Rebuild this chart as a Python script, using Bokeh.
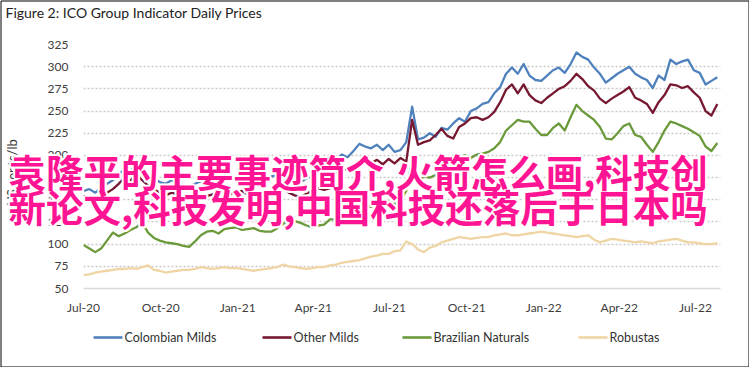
import pandas as pd
from math import pi
from bokeh.plotting import figure
from bokeh.models import Range1d, FixedTicker, ColumnDataSource
from bokeh.embed import file_html
from bokeh.resources import INLINE
from bokeh.core.properties import value

# ---------------- data (weekly readings, starting 1 Jul 2020) ----------------
start_date = "2020-07-01"
colombian_milds = [
    160, 162, 158, 163, 168, 172, 178, 185, 183, 188,
    182, 178, 174, 170, 168, 172, 170, 166, 165, 168,
    171, 170, 173, 176, 174, 172, 175, 178, 174, 172,
    170, 173, 176, 178, 180, 176, 172, 170, 174, 176,
    180, 178, 180, 195, 201, 198, 205, 213, 210, 208,
    212, 206, 212, 204, 206, 215, 255, 218, 220, 225,
    221, 231, 229, 236, 242, 238, 250, 253, 258, 260,
    270, 277, 292, 299, 292, 303, 290, 285, 284, 290,
    296, 299, 293, 303, 316, 311, 308, 299, 292, 282,
    287, 292, 296, 300, 292, 288, 285, 276, 290, 285,
    308, 303, 306, 308, 296, 293, 280, 284, 288,
]
other_milds = [
    154, 152, 150, 155, 158, 162, 168, 175, 172, 178,
    172, 166, 162, 158, 155, 158, 156, 152, 150, 153,
    156, 154, 156, 160, 158, 156, 158, 160, 156, 154,
    152, 155, 158, 160, 162, 158, 155, 153, 157, 160,
    163, 161, 163, 178, 186, 183, 188, 194, 192, 191,
    195, 190, 196, 191, 197, 193, 240, 212, 215, 217,
    223, 230, 222, 219, 232, 236, 242, 243, 240, 243,
    249, 260, 274, 280, 270, 280, 268, 262, 259, 265,
    270, 275, 278, 284, 292, 286, 278, 273, 264, 259,
    264, 268, 272, 277, 265, 262, 258, 248, 260, 268,
    280, 279, 276, 278, 271, 265, 250, 245, 258,
]
brazilian_naturals = [
    99, 95, 91, 95, 104, 113, 109, 112, 116, 119,
    124, 113, 107, 104, 102, 101, 100, 98, 97, 103,
    110, 114, 115, 112, 117, 118, 119, 116, 117, 118,
    115, 114, 114, 118, 123, 126, 126, 124, 121, 119,
    121, 122, 128, 128, 127, 131, 137, 142, 145, 142,
    146, 143, 148, 145, 150, 160, 195, 172, 176, 175,
    178, 180, 186, 192, 198, 200, 197, 201, 202, 204,
    208, 215, 228, 234, 240, 238, 238, 230, 223, 223,
    231, 236, 228, 243, 257, 250, 245, 240, 232, 219,
    218, 225, 233, 236, 223, 221, 212, 204, 215, 228,
    238, 236, 233, 230, 226, 222, 210, 205, 214,
]
robustas = [
    65, 66, 68, 69, 70, 71, 72, 72, 73, 72,
    74, 76, 71, 70, 68, 69, 70, 71, 71, 72,
    74, 73, 72, 73, 74, 73, 73, 72, 71, 70,
    71, 72, 73, 74, 77, 75, 74, 73, 72, 73,
    74, 74, 76, 77, 79, 80, 81, 82, 84, 86,
    87, 89, 89, 92, 93, 103, 100, 94, 91, 96,
    98, 102, 104, 106, 108, 107, 106, 107, 108, 108,
    110, 111, 112, 110, 110, 111, 112, 113, 114, 113,
    112, 111, 110, 109, 108, 109, 110, 105, 102, 104,
    106, 105, 104, 103, 102, 103, 102, 101, 103, 104,
    105, 106, 104, 102, 102, 101, 100, 100, 101,
]
series_names = ["Colombian Milds", "Other Milds", "Brazilian Naturals", "Robustas"]
tick_dates = ["2020-07-01", "2020-10-01", "2021-01-01", "2021-04-01", "2021-07-01",
              "2021-10-01", "2022-01-01", "2022-04-01", "2022-07-01"]
tick_labels = ["Jul-20", "Oct-20", "Jan-21", "Apr-21", "Jul-21",
               "Oct-21", "Jan-22", "Apr-22", "Jul-22"]
y_ticks = [50, 75, 100, 125, 150, 175, 200, 225, 250, 275, 300, 325]
title_text = "Figure 2: ICO Group Indicator Daily Prices"
y_label = "US cents/lb"
overlay_lines = ["袁隆平的主要事迹简介,火箭怎么画,科技创",
                 "新论文,科技发明,中国科技还落后于日本吗"]

# ---------------- styling / layout (canvas pixels) ----------------
colors = ["#4F81BD", "#76182F", "#6B9A3B", "#EFD5A4"]
FONT = "Lato"
W, H = 749, 367
FR_L, FR_R, FR_T, FR_B = 83, 720, 44, 288
LEGEND_X = [93, 262, 402, 578]   # left end of each legend swatch
LEGEND_Y = 337
X0 = pd.Timestamp(start_date)
SPAN_DAYS = 759.8
X1 = X0 + pd.Timedelta(days=SPAN_DAYS)

def to_ms(ts):
    return pd.Timestamp(ts).value // 10**6

def dx(px):
    ppd = (FR_R - FR_L) / SPAN_DAYS
    return to_ms(X0 + pd.Timedelta(days=(px - FR_L) / ppd))

def dy(py):
    return y_ticks[0] + (FR_B - py) * (y_ticks[-1] - y_ticks[0]) / (FR_B - FR_T)

dates = pd.date_range(start_date, periods=len(colombian_milds), freq="7D")
src = ColumnDataSource(dict(date=dates, cm=colombian_milds, om=other_milds,
                            bn=brazilian_naturals, rb=robustas))

p = figure(width=W, height=H, x_axis_type="datetime", output_backend="svg",
           toolbar_location=None,
           x_range=Range1d(X0, X1), y_range=Range1d(y_ticks[0], y_ticks[-1]),
           min_border_left=FR_L, min_border_right=W - FR_R,
           min_border_top=FR_T, min_border_bottom=H - FR_B)
p.outline_line_color = None
p.background_fill_color = "white"
p.border_fill_color = "white"

for col, c in zip(["cm", "om", "bn", "rb"], colors):
    p.line("date", col, source=src, line_color=c, line_width=2.3, line_join="round")

# axes
p.xaxis.ticker = FixedTicker(ticks=[to_ms(d) for d in tick_dates])
p.xaxis.major_label_overrides = {to_ms(d): l for d, l in zip(tick_dates, tick_labels)}
p.xaxis.axis_line_color = "#d9d9d9"
p.xaxis.axis_line_width = 1.5
p.xaxis.major_tick_line_color = None
p.xaxis.minor_tick_line_color = None
p.xaxis.major_label_standoff = 5
p.yaxis.ticker = FixedTicker(ticks=y_ticks)
p.yaxis.axis_line_color = None
p.yaxis.major_tick_line_color = None
p.yaxis.minor_tick_line_color = None
p.yaxis.major_label_standoff = 9
for ax in (p.xaxis, p.yaxis):
    ax.major_label_text_font = FONT
    ax.major_label_text_font_size = "12px"
    ax.major_label_text_color = "#404040"
p.xgrid.grid_line_color = None
p.ygrid.grid_line_color = "#c8c8c8"
p.ygrid.grid_line_dash = "2 2"
p.ygrid.grid_line_width = 1.3

# legend (drawn on the overlay level below the axis)
lx0 = [dx(x) for x in LEGEND_X]
lx1 = [dx(x + 29) for x in LEGEND_X]
ltx = [dx(x + 31) for x in LEGEND_X]
ly = [dy(LEGEND_Y)] * len(series_names)
p.segment(x0=lx0, x1=lx1, y0=ly, y1=ly, line_color=colors, line_width=2.6, level="overlay")
p.text(x=ltx, y=ly, text=series_names, text_font=value(FONT), text_font_size="12.5px",
       text_color="#333333", text_align="left", text_baseline="middle", level="overlay")

# title and y-axis label
p.text(x=[dx(5)], y=[dy(12)], text=[title_text], text_font=value(FONT), text_font_size="14px",
       text_color="#222222", text_align="left", text_baseline="middle", level="overlay")
p.text(x=[dx(11)], y=[dy(172)], text=[y_label], angle=pi / 2, text_font=value(FONT),
       text_font_size="13px", text_color="#333333", text_align="center",
       text_baseline="middle", level="overlay")

# overlay text with white outline
offsets = [(-2, 0), (2, 0), (0, -2), (0, 2), (-1.5, -1.5), (1.5, -1.5), (-1.5, 1.5), (1.5, 1.5), (0, 0)]
ov = dict(x=[], y=[], text=[], xo=[], yo=[], color=[])
for line_text, py in zip(overlay_lines, [170, 205]):
    for ox, oy in offsets:
        ov["x"].append(dx(8))
        ov["y"].append(dy(py))
        ov["text"].append(line_text)
        ov["xo"].append(ox)
        ov["yo"].append(oy)
        ov["color"].append("#FF1493" if (ox, oy) == (0, 0) else "white")
order = sorted(range(len(ov["x"])), key=lambda i: ov["color"][i] != "white")
ov = {k: [v[i] for i in order] for k, v in ov.items()}
p.text(x="x", y="y", text="text", x_offset="xo", y_offset="yo", text_color="color",
       source=ColumnDataSource(ov), text_font=value("Noto Sans CJK SC"),
       text_font_style="bold", text_font_size="37.5px",
       text_align="left", text_baseline="middle", level="overlay")

# frame around the whole chart
p.quad(left=[dx(0.5)], right=[dx(W - 0.5)], top=[dy(0.5)], bottom=[dy(H - 0.5)],
       fill_alpha=0, line_color="black", line_width=1, level="overlay")

open("out.html", "w").write(file_html(p, INLINE))
